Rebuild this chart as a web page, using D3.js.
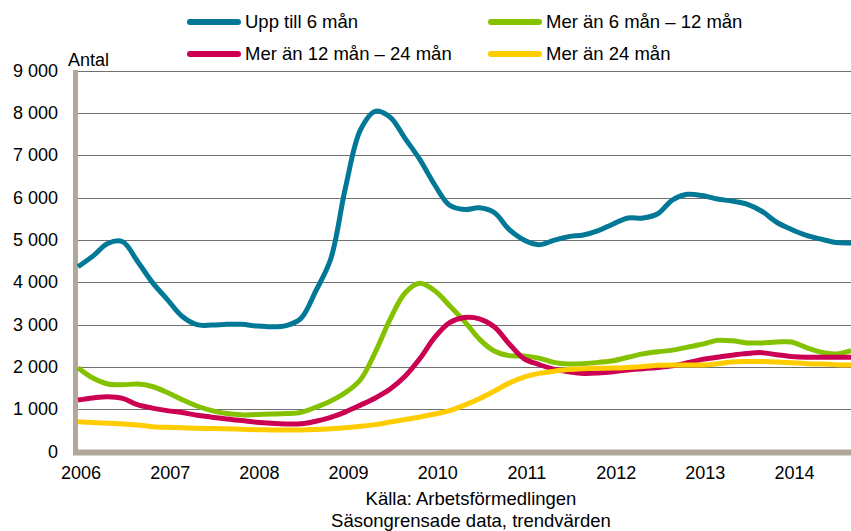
<!DOCTYPE html>
<html>
<head>
<meta charset="utf-8">
<script src="https://cdn.jsdelivr.net/npm/d3@7"></script>
<style>
  html, body { margin: 0; padding: 0; background: #fff; }
  svg { display: block; font-family: "Liberation Sans", Arial, sans-serif; }
</style>
</head>
<body>
<svg id="chart" width="851" height="531"></svg>
<script>
// Month index (0 = jan 2006), sampled every second month
const months = d3.range(0, 105, 2);
const yearLabels = ["2006","2007","2008","2009","2010","2011","2012","2013","2014"];
const yTicks = [0,1000,2000,3000,4000,5000,6000,7000,8000,9000];

const upp6 = [4370,4620,4920,4960,4500,4000,3600,3200,3000,2990,3010,3010,2970,2950,2980,3150,
  3800,4550,6250,7600,8040,7900,7400,6900,6300,5820,5720,5760,5650,5250,5000,4890,4990,5080,
  5120,5220,5380,5520,5520,5620,5950,6080,6050,5970,5920,5850,5680,5420,5250,5110,5020,4940,4930];
const mer6_12 = [1985,1740,1600,1580,1600,1540,1400,1230,1080,970,900,870,880,890,900,930,
  1050,1200,1400,1700,2350,3130,3750,3980,3800,3450,3080,2660,2380,2270,2260,2210,2110,2070,
  2080,2110,2150,2230,2310,2360,2400,2470,2540,2630,2620,2570,2570,2590,2590,2460,2350,2310,2390];
const mer12_24 = [1221,1270,1300,1260,1110,1030,970,925,860,815,770,735,695,670,655,660,
  720,810,940,1100,1270,1480,1780,2200,2700,3050,3170,3140,2950,2550,2200,2060,1950,1890,
  1850,1860,1890,1930,1960,1990,2030,2100,2180,2230,2280,2320,2340,2290,2250,2230,2230,2230,2230];
const mer24 = [709,690,670,655,630,590,575,565,555,548,540,530,520,515,512,515,
  525,540,565,600,640,700,760,820,890,970,1100,1250,1430,1620,1760,1850,1900,1940,
  1960,1970,1975,1990,2010,2040,2050,2050,2050,2080,2120,2130,2130,2120,2100,2080,2070,2055,2048];

const seriesNames = ["Upp till 6 mån","Mer än 6 mån – 12 mån","Mer än 12 mån – 24 mån","Mer än 24 mån"];
const seriesColors = ["#007896","#84c200","#cc0052","#ffcc00"];
const seriesValues = [upp6, mer6_12, mer12_24, mer24];

const svg = d3.select("#chart");
const x = d3.scaleLinear().domain([0, 104]).range([78, 851]);
const y = d3.scaleLinear().domain([0, 9000]).range([451.7, 70.7]);

// gridlines
svg.append("g").selectAll("line").data(yTicks.filter(d => d > 0)).join("line")
  .attr("x1", 77).attr("x2", 851)
  .attr("y1", d => Math.round(y(d)) + 0.5).attr("y2", d => Math.round(y(d)) + 0.5)
  .attr("stroke", "#707070").attr("stroke-width", 1.2);

// y labels
svg.append("g").selectAll("text").data(yTicks).join("text")
  .attr("x", 58).attr("y", d => y(d) + 6)
  .attr("text-anchor", "end").attr("font-size", 18).attr("fill", "#000")
  .text(d => d === 0 ? "0" : d3.format(",")(d).replace(",", " "));

svg.append("text").attr("x", 68).attr("y", 66).attr("font-size", 18).text("Antal");

// x labels
svg.append("g").selectAll("text").data(yearLabels).join("text")
  .attr("x", (d, i) => x(i * 12) + 3).attr("y", 479)
  .attr("text-anchor", "middle").attr("font-size", 18).text(d => d);

// axes (tan)
svg.append("line").attr("x1", 75.5).attr("x2", 75.5).attr("y1", 70).attr("y2", 455)
  .attr("stroke", "#b2a899").attr("stroke-width", 5);
svg.append("line").attr("x1", 73).attr("x2", 851).attr("y1", 452.5).attr("y2", 452.5)
  .attr("stroke", "#b2a899").attr("stroke-width", 6);

// lines
const line = d3.line().x((d, i) => x(months[i])).y(d => y(d)).curve(d3.curveCatmullRom.alpha(0.5));
const plot = svg.append("g");
seriesValues.forEach((vals, k) => {
  plot.append("path").datum(vals)
    .attr("d", line).attr("fill", "none")
    .attr("stroke", seriesColors[k]).attr("stroke-width", 5)
    .attr("stroke-linejoin", "round").attr("stroke-linecap", "butt");
});

// legend
const legendPos = [[187, 22], [488, 22], [187, 54], [488, 54]];
seriesNames.forEach((name, k) => {
  const [lx, ly] = legendPos[k];
  svg.append("line").attr("x1", lx + 3).attr("x2", lx + 51).attr("y1", ly).attr("y2", ly)
    .attr("stroke", seriesColors[k]).attr("stroke-width", 6).attr("stroke-linecap", "round");
  svg.append("text").attr("x", lx + 58).attr("y", ly + 6).attr("font-size", 18.5).text(name);
});

// footer
svg.append("text").attr("x", 471).attr("y", 505).attr("text-anchor", "middle")
  .attr("font-size", 18.5).text("Källa: Arbetsförmedlingen");
svg.append("text").attr("x", 471).attr("y", 527).attr("text-anchor", "middle")
  .attr("font-size", 18.5).text("Säsongrensade data, trendvärden");
</script>
</body>
</html>
